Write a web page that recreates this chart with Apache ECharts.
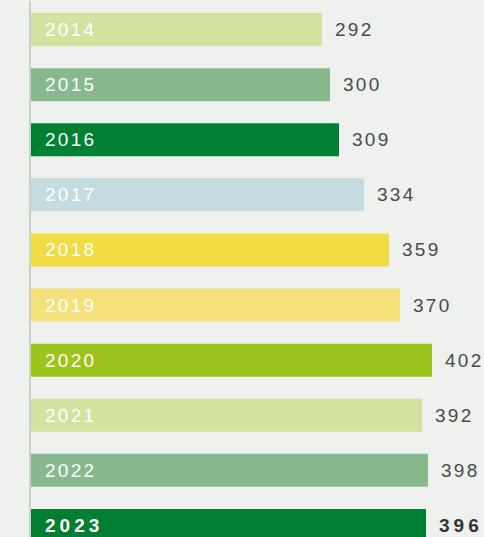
<!DOCTYPE html>
<html>
<head>
<meta charset="utf-8">
<script src="https://cdn.jsdelivr.net/npm/echarts@6/dist/echarts.min.js"></script>
<style>
  html, body { margin: 0; padding: 0; background: #eff1ee; }
  #chart { width: 484px; height: 537px; }
  /* the source uses spaced-out digits */
  #chart text { letter-spacing: 2.3px; }
  #chart text[style*="bold"] { letter-spacing: 4px; }
</style>
</head>
<body>
<div id="chart"></div>
<script>
// years top to bottom
const years = ['2014', '2015', '2016', '2017', '2018', '2019', '2020', '2021', '2022', '2023'];
const values = [292, 300, 309, 334, 359, 370, 402, 392, 398, 396];
const colors = ['#d4e29f', '#87b98d', '#008033', '#c5dbdf', '#f2dc43',
                '#f4e17b', '#9dc31d', '#d4e29f', '#87b98d', '#007f32'];

const lastIdx = years.length - 1;

const chart = echarts.init(document.getElementById('chart'), null, { renderer: 'svg' });

chart.setOption({
  backgroundColor: '#eff1ee',
  animation: false,
  textStyle: { fontFamily: 'Liberation Sans, Arial, sans-serif' },
  // last bar runs off the bottom edge in the source
  grid: { left: 30, top: 2, width: 454, height: 551, outerBoundsMode: 'none', containLabel: false },
  xAxis: {
    type: 'value',
    min: 0,
    max: 454,
    show: false
  },
  yAxis: {
    type: 'category',
    inverse: true,
    data: years,
    z: 10,
    axisLine: { show: true, lineStyle: { color: '#c8d3c4', width: 2 } },
    axisTick: { show: false },
    splitLine: { show: false },
    axisLabel: {
      inside: true,
      margin: 15,
      color: '#ffffff',
      fontSize: 19,
      formatter: (v, i) => (i === lastIdx ? '{b|' + v + '}' : v),
      rich: { b: { fontWeight: 'bold', fontSize: 19, color: '#ffffff' } }
    }
  },
  series: [{
    type: 'bar',
    barWidth: 33,
    data: values.map((v, i) => ({
      value: v,
      itemStyle: { color: colors[i] },
      label: i === lastIdx ? { fontWeight: 'bold', color: '#333333' } : undefined
    })),
    label: {
      show: true,
      position: 'right',
      distance: 13,
      fontSize: 19,
      color: '#4a4a4a'
    }
  }]
});
</script>
</body>
</html>
